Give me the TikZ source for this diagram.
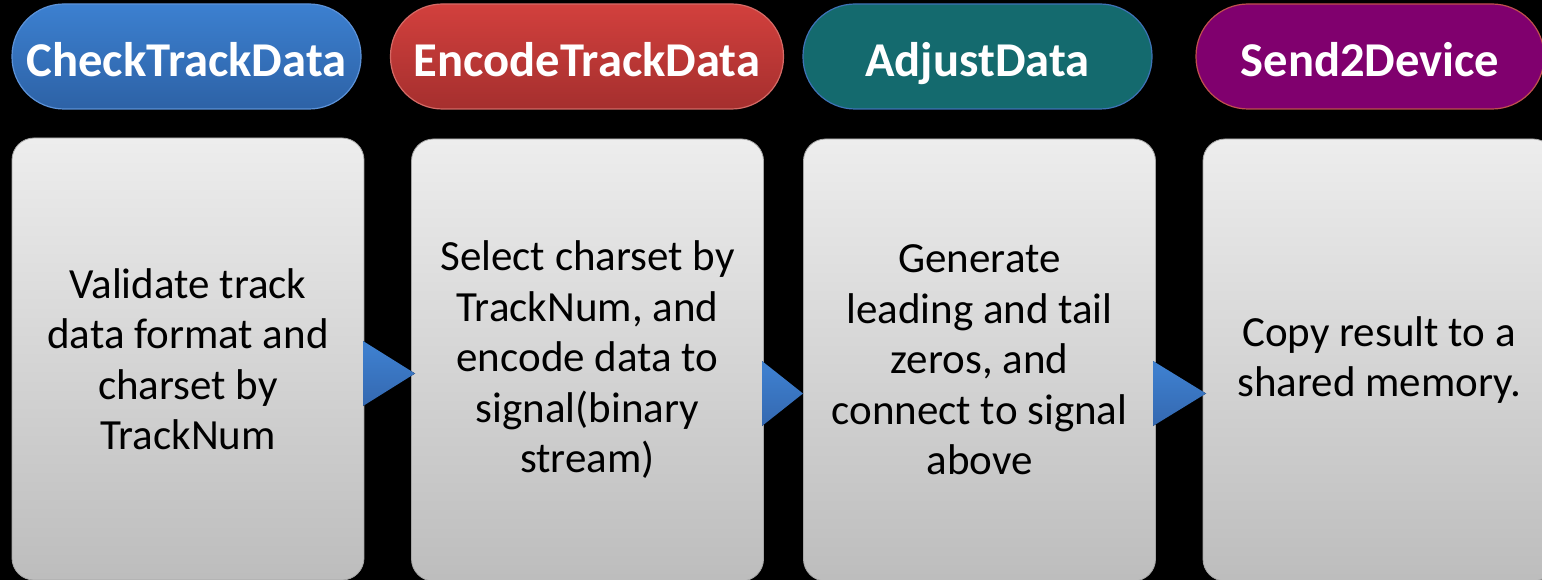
\documentclass[tikz,border=0pt]{standalone}
\usepackage{fontspec}
\setmainfont{Carlito}
\begin{document}
\begin{tikzpicture}[x=1pt,y=-1pt,
  pill/.style={rounded corners=52pt, minimum height=105pt, inner sep=0pt,
    text height=46pt, text depth=5pt,
    line width=1.2pt, text=white, font=\fontsize{48.6}{56}\selectfont\bfseries},
  stepbox/.style={rounded corners=22pt, minimum width=352pt, minimum height=442pt,
    inner sep=0pt, draw=black!35, line width=0.8pt, top color=black!7, bottom color=black!26,
    align=center, font=\fontsize{43}{50.5}\selectfont},
  chev/.style={top color=blue1top, bottom color=blue1bot, draw=none}]
\definecolor{blue1top}{HTML}{3F82D2}
\definecolor{blue1bot}{HTML}{3468B0}
\definecolor{p1top}{HTML}{3C80D0}
\definecolor{p1bot}{HTML}{2D62A6}
\definecolor{p1line}{HTML}{5C92D8}
\definecolor{p2top}{HTML}{D2403D}
\definecolor{p2bot}{HTML}{A52F2E}
\definecolor{p2line}{HTML}{D46A66}
\definecolor{p3fill}{HTML}{146A6E}
\definecolor{p3line}{HTML}{3E72B6}
\definecolor{p4fill}{HTML}{80006E}
\definecolor{p4line}{HTML}{C0504D}
\fill[black] (0,0) rectangle (1542,580);
\useasboundingbox (0,0) rectangle (1542,580);
\begin{scope}
\clip (0,0) rectangle (1542,580);
\node[pill, minimum width=349pt, draw=p1line, top color=p1top, bottom color=p1bot] (h1) at (186.5,56.5) {CheckTrackData};
\node[pill, minimum width=393pt, draw=p2line, top color=p2top, bottom color=p2bot] (h2) at (587,56.5) {EncodeTrackData};
\node[pill, minimum width=349pt, draw=p3line, fill=p3fill] (h3) at (977.5,56.5) {AdjustData};
\node[pill, minimum width=348pt, draw=p4line, fill=p4fill] (h4) at (1370,56.5) {Send2Device};

\node[stepbox] (b1) at (188,359) {Validate track\\data format and\\charset by\\TrackNum};
\node[stepbox] (b2) at (587.5,360) {Select charset by\\TrackNum, and\\encode data to\\signal(binary\\stream)};
\node[stepbox] (b3) at (979.5,360) {Generate\\leading and tail\\zeros, and\\connect to signal\\above};
\node[stepbox] (b4) at (1379,360) {Copy result to a\\shared memory.};

\fill[chev] (363,341) -- (415,373.5) -- (363,406) -- cycle;
\fill[chev] (762,361) -- (803,393.5) -- (762,426) -- cycle;
\fill[chev] (1153,361) -- (1206,393.5) -- (1153,426) -- cycle;
\end{scope}
\end{tikzpicture}
\end{document}
